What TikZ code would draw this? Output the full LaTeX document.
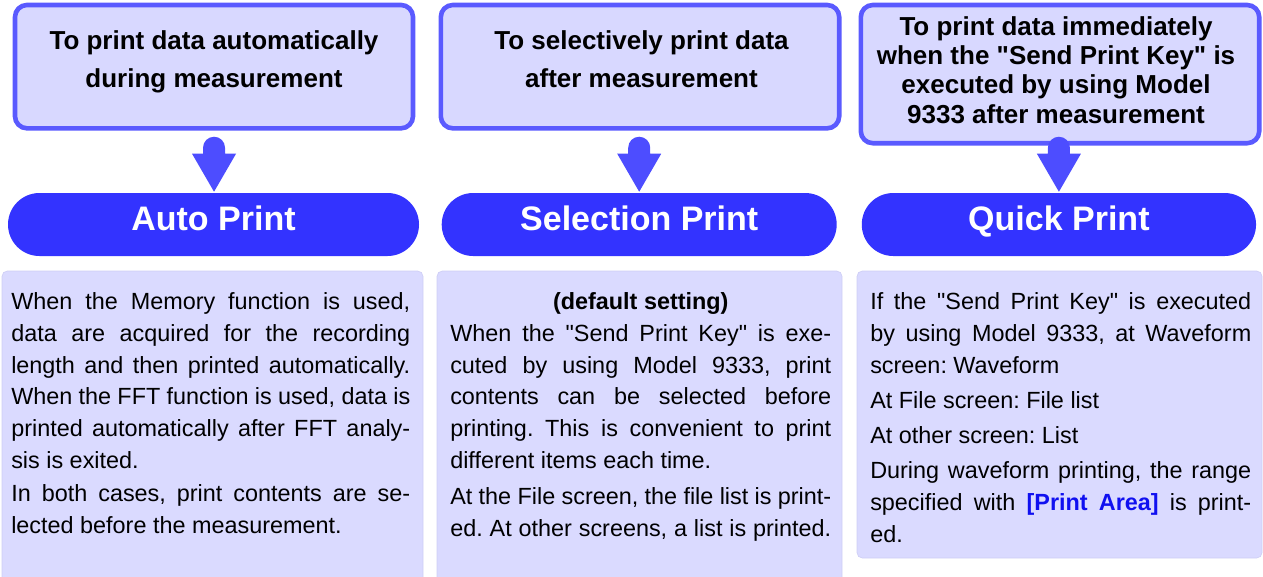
\documentclass[tikz,border=0pt]{standalone}
\usepackage{fontspec}
\setmainfont{Liberation Sans}[Ligatures=TeXOff]
\usetikzlibrary{calc}
\definecolor{boxborder}{RGB}{90,90,255}
\definecolor{topfill}{RGB}{216,216,255}
\definecolor{arrowblue}{RGB}{77,77,255}
\definecolor{pillblue}{RGB}{51,51,255}
\definecolor{botfill}{RGB}{218,218,255}
\definecolor{botedge}{RGB}{206,206,245}
\definecolor{printblue}{RGB}{16,16,240}
\newcommand{\JL}[1]{\hbox to\hsize{\spaceskip=0pt\xspaceskip=0pt\relax #1}\par}
\newcommand{\LL}[1]{\hbox to\hsize{\spaceskip=0pt\xspaceskip=0pt\relax #1\hfil}\par}
\newcommand{\CL}[1]{\hbox to\hsize{\spaceskip=0pt\xspaceskip=0pt\relax\hfil#1\hfil}\par}
\tikzset{
  topbox/.style={draw=boxborder, line width=3.45pt, fill=topfill, rounded corners=9pt, inner sep=0pt},
  pill/.style={fill=pillblue, rounded corners=23.6pt, text=white, font=\bfseries\fontsize{25.5}{30}\selectfont, text height=27.75pt, text depth=19.5pt, inner sep=0pt},
  bodybox/.style={fill=botfill, draw=botedge, line width=0.5pt, rounded corners=4pt, inner sep=0pt},
  titletext/.style={align=center, anchor=base, inner sep=0pt, font=\bfseries\fontsize{19.5}{28.5}\selectfont},
  bodytext/.style={anchor=base west, inner sep=0pt, align=left, font=\fontsize{17.55}{23.85}\selectfont\frenchspacing\setlength\parindent{0pt}\setlength\parskip{0pt}},
  bluearrow/.pic={
    \fill[arrowblue] (-11,-39) -- (-11,-45) arc (180:360:11) -- (11,-39) -- (22,-39) -- (0,-1) -- (-22,-39) -- cycle;
  }
}
\begin{document}
\begin{tikzpicture}[x=0.75pt,y=-0.75pt]
\useasboundingbox (0,0) rectangle (1263,576);
% top boxes
\node[topbox, minimum width=298.5pt, minimum height=92.5pt] (t1) at (214,66.65) {};
\node[topbox, minimum width=298.8pt, minimum height=92.5pt] (t2) at (640,66.65) {};
\node[topbox, minimum width=298.8pt, minimum height=103.65pt] (t3) at (1060,74.1) {};
\node[titletext] (tt1) at (214,87.3) {To print data automatically\\during measurement};
\node[titletext] (tt2) at (641.5,87.3) {To selectively print data\\after measurement};
\node[titletext, font=\bfseries\fontsize{19.5}{22}\selectfont] (tt3) at (1056,123.3) {To print data immediately\\when the "Send Print Key" is\\executed by using Model\\9333 after measurement};
% pills
\node[pill, minimum width=308.25pt] (p1) at (213.5,224.5) {Auto Print};
\node[pill, minimum width=296.25pt] (p2) at (639.2,224.5) {Selection Print};
\node[pill, minimum width=295.7pt] (p3) at (1058.9,224.5) {Quick Print};
% arrows
\pic at ([xshift=0.4pt]p1.north) {bluearrow};
\pic at (p2.north) {bluearrow};
\pic at (p3.north) {bluearrow};
% bottom boxes
\node[bodybox, minimum width=315.75pt, minimum height=239.25pt] (b1) at (212.5,430.5) {};
\node[bodybox, minimum width=303.75pt, minimum height=239.25pt] (b2) at (639.5,430.5) {};
\node[bodybox, minimum width=303.75pt, minimum height=215.25pt] (b3) at (1059.5,414.5) {};
% body texts
\node[bodytext, text width=299.25pt] (x1) at (11,309.5) {%
\JL{When the Memory function is used,}
\JL{data are acquired for the recording}
\JL{length and then printed automatically.}
\JL{When the FFT function is used, data is}
\JL{printed automatically after FFT analy-}
\LL{sis is exited.}
\vspace{1.1pt}
\JL{In both cases, print contents are se-}
\LL{lected before the measurement.}};
\node[bodytext, text width=285.75pt] (x2) at (450,309.5) {%
\CL{\bfseries (default setting)}
\JL{When the "Send Print Key" is exe-}
\JL{cuted by using Model 9333, print}
\JL{contents can be selected before}
\JL{printing. This is convenient to print}
\LL{different items each time.}
\vspace{3pt}
\JL{At the File screen, the file list is print-}
\JL{ed. At other screens, a list is printed.}};
\node[bodytext, text width=285.75pt] (x3) at (870,309.5) {%
\JL{If the "Send Print Key" is executed}
\JL{by using Model 9333, at Waveform}
\LL{screen: Waveform}
\vspace{2.5pt}
\LL{At File screen: File list}
\vspace{2.5pt}
\LL{At other screen: List}
\vspace{2.5pt}
\JL{During waveform printing, the range}
\JL{specified with \textcolor{printblue}{\bfseries [Print Area]} is print-}
\LL{ed.}};
\end{tikzpicture}
\end{document}
